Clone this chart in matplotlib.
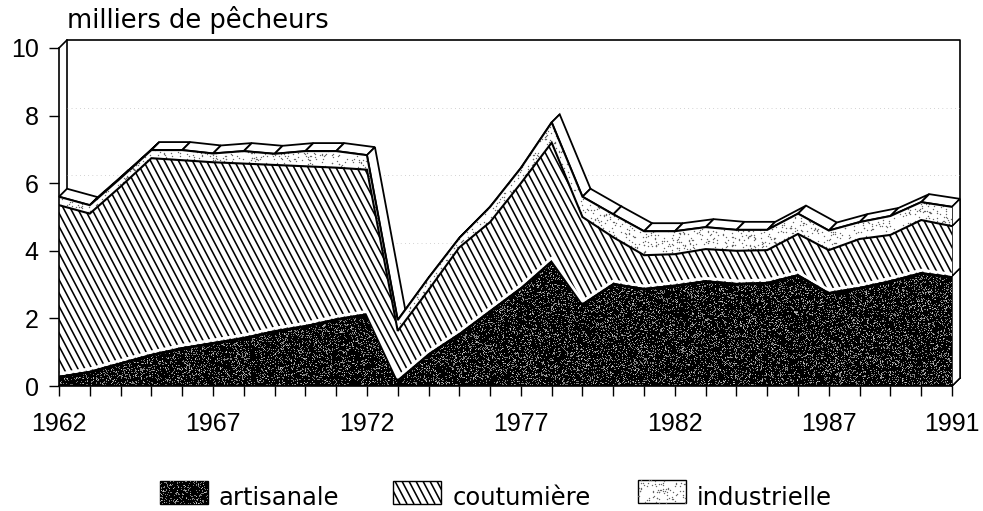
import numpy as np
import matplotlib
matplotlib.use("Agg")
import matplotlib.pyplot as plt
from matplotlib.patches import Polygon, Rectangle
from matplotlib.collections import LineCollection
from matplotlib.transforms import IdentityTransform

plt.rcParams['font.family'] = ['Liberation Sans', 'DejaVu Sans']

# donnees (milliers de pecheurs)
annees = list(range(1962, 1992))
artisanale = [.30, .45, .70, .95, 1.15, 1.30, 1.45, 1.65, 1.80, 2.00, 2.15, .20, .97, 1.57, 2.25,
              2.93, 3.73, 2.45, 3.05, 2.90, 3.00, 3.13, 3.05, 3.08, 3.31, 2.78, 2.93, 3.13, 3.37, 3.25]
coutumiere = [5.05, 4.65, 5.20, 5.79, 5.53, 5.32, 5.13, 4.89, 4.70, 4.46, 4.25, 1.43, 1.87, 2.53, 2.60,
              3.07, 3.47, 2.55, 1.35, .97, .90, .92, .95, .94, 1.19, 1.24, 1.42, 1.34, 1.54, 1.48]
industrielle = [.25, .25, .25, .24, .30, .26, .37, .33, .45, .49, .43, .32, .36, .28, .45,
                .45, .60, .60, .68, .71, .68, .65, .62, .60, .60, .58, .50, .56, .53, .57]
yticks = [0, 2, 4, 6, 8, 10]
xlabels = {1962: '1962', 1967: '1967', 1972: '1972', 1977: '1977', 1982: '1982', 1987: '1987', 1991: '1991'}
noms = ['artisanale', 'coutumière', 'industrielle']

W, H = 983, 511
fig = plt.figure(figsize=(W / 100, H / 100), dpi=100)
ax = fig.add_axes([59 / W, 1 - 386 / H, (952 - 59) / W, (386 - 48) / H])
ax.set_facecolor('none')

# profondeur du faux 3D : 8 pixels vers le haut et la droite
dx = 8 / (893 / 29)
dy = 8 / 33.8

x = np.array(annees, dtype=float)
y1 = np.array(artisanale)
y2 = y1 + np.array(coutumiere)
y3 = y2 + np.array(industrielle)
xmin, xmax = x[0], x[-1]


def noise_texture(shape, seed):
    # texture du scan, pas des donnees
    rng = np.random.RandomState(seed)
    img = np.zeros(shape)
    img[rng.random_sample(shape) < 0.17] = 0.5
    img[rng.random_sample(shape) < 0.04] = 0.75
    return img


def slanted_hatch(a, patch, x0, x1, y0, y1, step=7.0, slope=1.9, lw=1.15):
    # traits obliques (pixels) decoupes par le polygone
    h = y1 - y0
    starts = np.arange(x0 - h / slope - step, x1 + step, step)
    segs = [[(s, y1), (s + h / slope, y0)] for s in starts]
    lc = LineCollection(segs, colors='black', linewidths=lw, transform=IdentityTransform(), zorder=patch.get_zorder() + .1)
    a.add_collection(lc, autolim=False)
    lc.set_clip_path(patch)


def dots(a, patch, x0, x1, y0, y1, seed=3):
    rng = np.random.RandomState(seed)
    n = int((x1 - x0) * (y1 - y0) * 0.07)
    a.scatter(rng.uniform(x0, x1, n), rng.uniform(y0, y1, n), s=1.0, c='#666666', linewidths=0,
              transform=IdentityTransform(), zorder=patch.get_zorder() + .1).set_clip_path(patch)


# cadre du fond
frame = dict(color='black', lw=1.2, clip_on=False, zorder=1)
ax.plot([xmin, xmin + dx, xmax + dx, xmax + dx], [10, 10 + dy, 10 + dy, dy], **frame)
ax.plot([xmin + dx, xmin + dx], [10 + dy, y3[0] + dy], **frame)
ax.plot([xmax, xmax + dx], [0, dy], **frame)

# restes de grille tres pales
for v in [4, 6, 8]:
    ax.plot([xmin + dx, xmax + dx], [v + dy, v + dy], color='#aaaaaa', lw=.5, ls=(0, (1, 5)), zorder=1, clip_on=False)

# ruban du dessus, annee par annee
for i in range(len(x) - 1):
    ax.add_patch(Polygon([(x[i], y3[i]), (x[i + 1], y3[i + 1]), (x[i + 1] + dx, y3[i + 1] + dy), (x[i] + dx, y3[i] + dy)],
                         fc='white', ec='black', lw=1.3, clip_on=False, zorder=2))

# paroi de droite
for a, b in [(0, y1[-1]), (y1[-1], y2[-1]), (y2[-1], y3[-1])]:
    ax.add_patch(Polygon([(xmax, a), (xmax + dx, a + dy), (xmax + dx, b + dy), (xmax, b)], fc='white', ec='black', lw=1.1,
                         clip_on=False, zorder=2))

# aires de face
bottom = np.zeros_like(x)
p1 = Polygon(np.r_[np.c_[x, bottom], np.c_[x[::-1], y1[::-1]]], fc='black', ec='none', zorder=3)
p2 = Polygon(np.r_[np.c_[x, y1], np.c_[x[::-1], y2[::-1]]], fc='white', ec='none', zorder=3)
p3 = Polygon(np.r_[np.c_[x, y2], np.c_[x[::-1], y3[::-1]]], fc='white', ec='none', zorder=3)
for p in [p1, p2, p3]:
    ax.add_patch(p)

im = ax.imshow(noise_texture((338, 893), 1), extent=[xmin, xmax, 0, 10], cmap='gray', vmin=0, vmax=1, aspect='auto',
               interpolation='nearest', zorder=3.1)
im.set_clip_path(p1)
ax.set_xlim(xmin, xmax)
ax.set_ylim(0, 10)

slanted_hatch(ax, p2, 59, 952, H - 386, H - 48)
dots(ax, p3, 59, 952, H - 386, H - 48)
# liseres : bord noir du sombre et petit blanc au-dessus
ax.plot(x, y1 - .04, color='black', lw=2.0, zorder=3.6, clip_on=True)
ax.plot(x, y1 + .06, color='white', lw=2.0, zorder=3.6, clip_on=True)
ax.plot(x, y2, color='black', lw=1.5, zorder=4, solid_joinstyle='miter')
ax.plot(x, y3, color='black', lw=1.5, zorder=4, solid_joinstyle='miter')
ax.plot([xmin, xmax], [0, 0], color='black', lw=2.5, zorder=4.5)

# axes
for s in ['top', 'right']:
    ax.spines[s].set_visible(False)
for s in ['left', 'bottom']:
    ax.spines[s].set_linewidth(1.2)
    ax.spines[s].set_zorder(5)
ax.set_xticks(annees)
ax.set_xticklabels([xlabels.get(a, '') for a in annees])
ax.set_yticks(yticks)
ax.tick_params(axis='x', length=7.5, width=1, labelsize=18, pad=11)
ax.tick_params(axis='y', length=7.5, width=1, labelsize=18, pad=7)

fig.text(67 / W, 1 - 20 / H, 'milliers de pêcheurs', fontsize=18.5, family='DejaVu Sans', ha='left', va='center')

# legende dessinee a la main, en pixels
lg = fig.add_axes([0, 0, 1, 1], facecolor='none')
lg.set_xlim(0, W)
lg.set_ylim(H, 0)
lg.axis('off')
boxes = [(160, 481), (393, 481), (638, 480)]
text_x = [219, 453, 697]
for k, ((bx, by), nom, tx) in enumerate(zip(boxes, noms, text_x)):
    r = Rectangle((bx, by), 48, 23, fc='black' if k == 0 else 'white', ec='black', lw=1, zorder=2)
    lg.add_patch(r)
    if k == 0:
        i2 = lg.imshow(noise_texture((23, 48), 5), extent=[bx, bx + 48, by + 23, by], cmap='gray', vmin=0, vmax=1,
                       aspect='auto', interpolation='nearest', zorder=2.1)
        i2.set_clip_path(r)
        lg.set_xlim(0, W)
        lg.set_ylim(H, 0)
    elif k == 1:
        slanted_hatch(lg, r, bx, bx + 48, H - by - 23, H - by)
    else:
        dots(lg, r, bx, bx + 48, H - by - 23, H - by, seed=8)
    lg.text(tx, 498, nom, fontsize=17.5, family='DejaVu Sans', ha='left', va='center')

fig.savefig('out.png', dpi=100)
